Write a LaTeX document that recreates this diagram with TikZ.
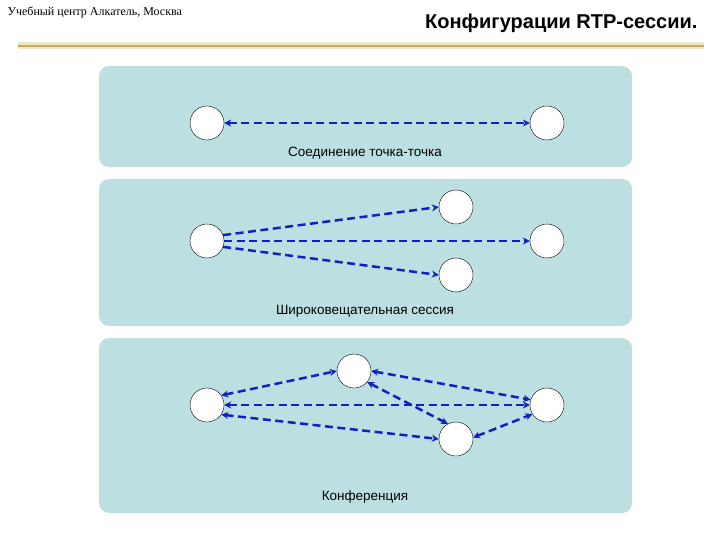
\documentclass[tikz,border=0pt]{standalone}
\usepackage{fontspec}
\setmainfont{Liberation Sans}
\newfontfamily\headserif{Liberation Serif}
\usetikzlibrary{
    arrows.meta,
    positioning
}
\definecolor{panelteal}{RGB}{188,224,226}
\definecolor{linkblue}{RGB}{16,32,196}
\definecolor{rulegold}{RGB}{206,172,84}

\begin{document}
\begin{tikzpicture}[x=1pt, y=-1pt,
    station/.style={circle, draw=black, fill=white, minimum size=34pt, inner sep=0pt},
    panel/.style={fill=panelteal, rounded corners=10pt},
    link/.style={draw=linkblue, line width=2.5pt, dash pattern=on 8pt off 4.5pt,
        {Stealth[length=7pt,width=7pt]}-{Stealth[length=7pt,width=7pt]}},
    oneway/.style={link, -{Stealth[length=7pt,width=7pt]}},
    caption/.style={font=\fontsize{13.5}{16}\selectfont}]

\useasboundingbox (0,0) rectangle (720,540);

% Header
\node[anchor=north west, font=\headserif\fontsize{12}{13}\selectfont] (centre) at (4,3) {Учебный центр Алкатель, Москва};
\node[anchor=base east, font=\bfseries\fontsize{20}{23}\selectfont] (title) at (701,29) {Конфигурации RTP-сессии.};
\draw[rulegold!30, line width=7pt] (18,46) -- (704,46);
\draw[rulegold, line width=2pt] (18,46) -- (704,46);

% Point to point
\begin{scope}
    \fill[panel] (99,66) rectangle (632,167);
    \node[station] (pa) at (207,123) {};
    \node[station] (pb) at (547,123) {};
    \draw[link] (pa) -- (pb);
    \node[caption] (pcap) at (365,153) {Соединение точка-точка};
\end{scope}

% Broadcast
\begin{scope}
    \fill[panel] (99,179) rectangle (632,326);
    \node[station] (bsrc) at (207,241) {};
    \node[station] (btop) at (456,207) {};
    \node[station] (bright) at (547,241) {};
    \node[station] (bbot) at (456,275) {};
    \draw[oneway] (bsrc.20) -- (btop.west);
    \draw[oneway] (bsrc.east) -- (bright.west);
    \draw[oneway] (bsrc.-20) -- (bbot.west);
    \node[caption] (bcap) at (365,311) {Широковещательная сессия};
\end{scope}

% Conference
\begin{scope}
    \fill[panel] (99,338) rectangle (632,513);
    \node[station] (cleft) at (207,405) {};
    \node[station] (ctop) at (354,371) {};
    \node[station] (cright) at (547,405) {};
    \node[station] (cbot) at (456,439) {};
    \draw[link] (cleft.34) -- (ctop.west);
    \draw[link] (cleft.east) -- (cright.west);
    \draw[link] (cleft.-34) -- (cbot.west);
    \draw[link] (ctop.east) -- (cright.162);
    \draw[link] (ctop.-40) -- (cbot.118);
    \draw[link] (cbot.5) -- (cright.212);
    \node[caption] (ccap) at (365,497) {Конференция};
\end{scope}

\end{tikzpicture}
\end{document}
